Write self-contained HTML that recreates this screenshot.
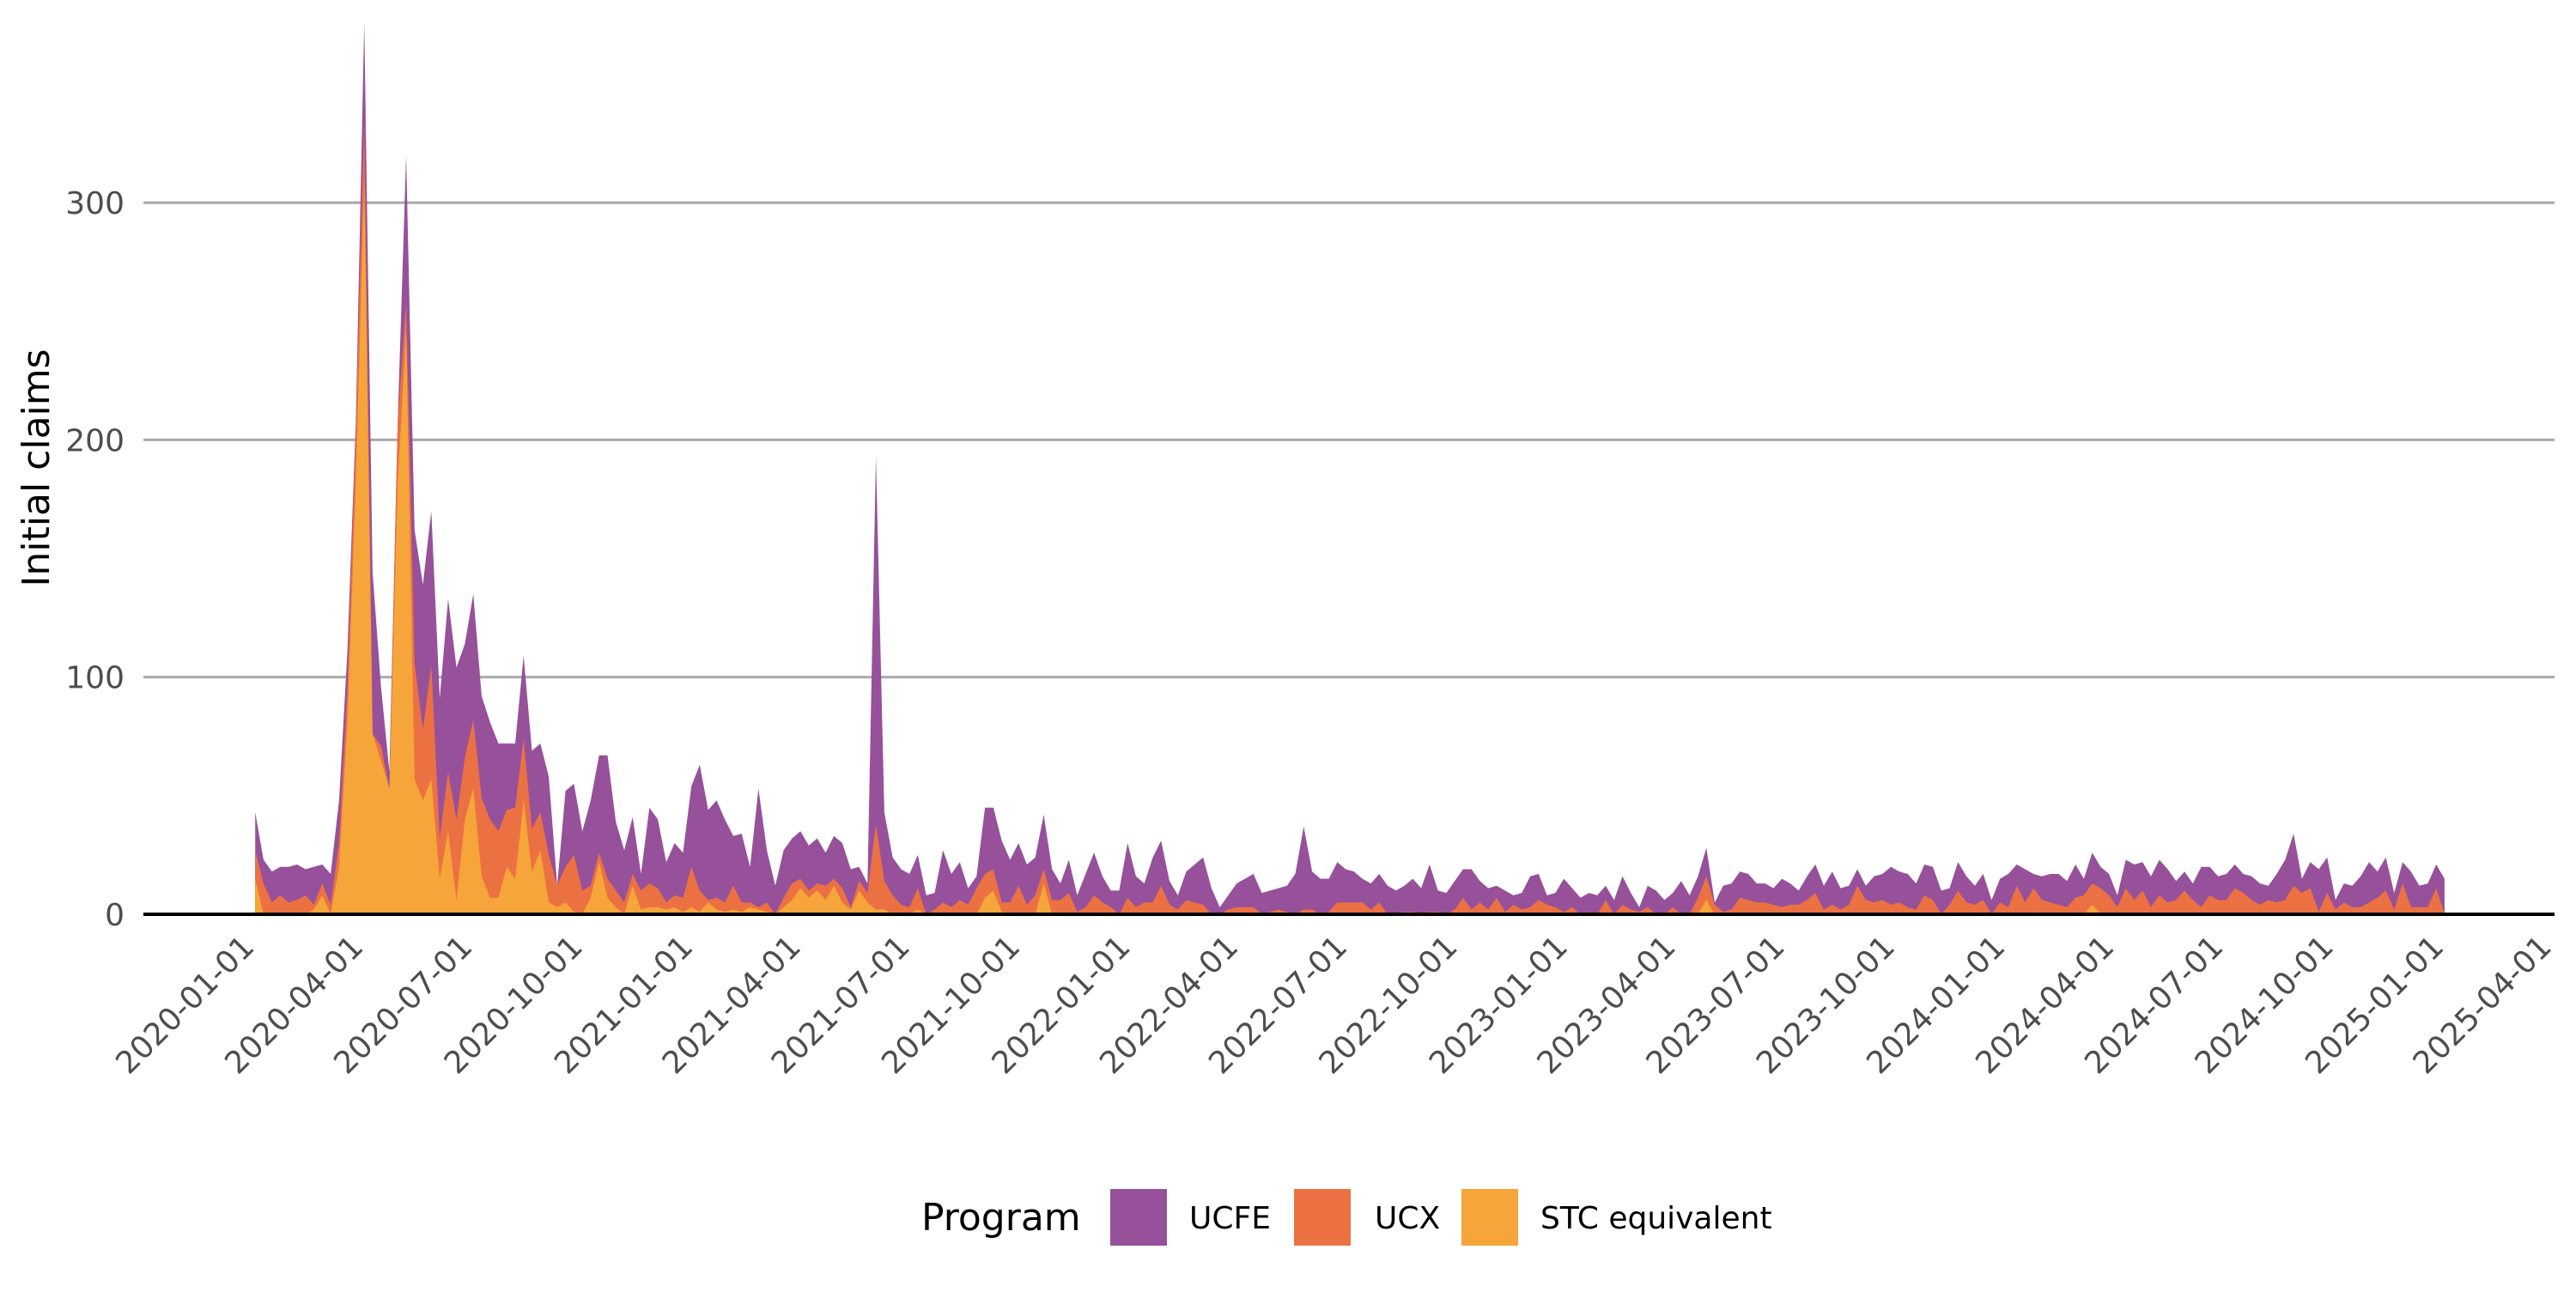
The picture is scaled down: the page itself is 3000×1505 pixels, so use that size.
<!DOCTYPE html>
<html><head><meta charset="utf-8"><style>
html,body{margin:0;padding:0;background:#fff}
svg text{font-family:"DejaVu Sans","Liberation Sans",sans-serif}
</style></head><body>
<svg id="chart" width="3000" height="1500" viewBox="0 0 3000 1500" xmlns="http://www.w3.org/2000/svg">
<rect width="3000" height="1500" fill="#fff"/>
<g id="grid"></g><g id="areas"></g><g id="axes"></g>
<text x="0" y="0" transform="translate(57,545) rotate(-90)" text-anchor="middle" font-size="44" fill="#000">Initial claims</text>
<g>
<text x="1073" y="1433" font-size="44" fill="#000">Program</text>
<rect x="1293" y="1385" width="66" height="66" fill="#96519a"/>
<text x="1385" y="1431" font-size="36" fill="#000">UCFE</text>
<rect x="1507" y="1385" width="66" height="66" fill="#ec7142"/>
<text x="1601" y="1431" font-size="36" fill="#000">UCX</text>
<rect x="1702" y="1385" width="66" height="66" fill="#f5a53a"/>
<text x="1794" y="1431" font-size="36" fill="#000">STC equivalent</text>
</g>
</svg>
<script>
const firstWeek = "2020-01-09";
const stc = [15,0,0,0,0,0,0,2,8,0, 20,81,182,309,76,65,53,182,246,57, 48,57,15,35,6,40,53,16,7,7, 20,15,48,18,27,5,3,5,1,0, 7,22,7,3,0,12,2,3,3,2, 3,1,3,1,5,2,1,2,1,3, 2,1,0,3,6,11,7,10,6,12, 5,2,10,5,2,2,0,0,0,2,
 0,0,0,0,0,0,0,7,10,1, 0,0,0,0,13,0,0,0,0,0,
 0,0,0,0,0,0,0,0,0,0, 0,0,0,0,0,0,0,0,0,0,
 0,0,0,0,0,0,0,0,0,0, 0,0,0,0,0,0,0,0,0,0,
 0,0,0,0,0,0,0,0,0,0, 0,0,0,0,0,0,0,0,0,0,
 0,0,0,0,0,0,0,0,0,0, 0,0,0,6,0,0,0,0,0,0,
 0,0,0,0,0,0,0,0,0,0, 0,0,0,0,0,0,0,0,0,0,
 0,0,0,0,0,0,0,0,0,0, 0,0,1,0,0,0,0,0,0,4,
 0,0,0,0,0,0,0,0,0,0, 0,0,0,0,0,0,0,0,0,0,
 0,0,0,0,0,0,0,0,0,0, 0,0,0,0,0,0,0,0,0,0,
 0,0];
const ucx = [12,13,5,8,5,6,8,2,5,4, 10,14,21,26,0,6,0,26,12,49, 30,48,17,25,34,26,29,33,33,28, 24,30,26,18,16,20,9,15,24,10, 5,4,8,7,5,5,8,10,8,3, 5,6,17,9,1,5,4,10,4,2, 1,4,0,4,7,4,3,3,6,3, 6,1,4,4,36,12,8,4,3,9,
 0,2,5,3,6,4,11,10,9,4, 5,12,4,8,6,6,6,9,1,3, 8,5,3,0,7,3,5,5,12,4, 2,6,
 5,4,0,0,2,3,3,3,0,1, 2,1,0,2,2,0,1,5,5,5, 5,2,5,0,0,1,1,0,1,1, 0,2,7,2,5,2,7,1,4,2, 3,
 6,4,3,1,3,0,1,0,6,0, 4,2,1,3,0,0,3,0,0,7, 10,4,1,2,7,6,5,5,4,3, 4,4,6,9,2,4,2,4,12,6, 5,
 6,4,5,3,2,8,6,0,4,10, 5,4,6,0,5,3,12,5,10,6, 5,4,3,7,8,9,11,8,3,11, 6,10,3,8,5,6,10,6,3,8, 6,
 6,11,9,6,4,6,5,6,12,9, 11,1,9,2,5,3,3,5,7,10, 2,13,3,3,3,11,0];
const ucfe = [16,10,13,12,15,15,11,16,8,13, 18,16,5,41,68,25,7,0,62,56, 61,65,59,73,64,48,53,43,41,37, 28,27,35,33,29,33,0,32,30,25, 36,41,52,29,22,24,7,32,29,17, 22,19,34,53,38,41,35,21,29,15, 50,22,12,20,19,20,19,19,14,18, 19,16,6,4,155,29,16,15,14,14,
 8,7,22,14,16,7,5,28,26,26, 18,18,17,16,23,13,7,14,7,14, 18,11,7,10,23,13,8,19,19,10, 6,12,
 16,20,11,3,6,10,12,14,9,9, 9,11,17,35,16,15,14,17,14,13, 10,11,12,12,10,11,14,11,20,9, 9,12,12,17,9,9,5,9,4,7, 13,
 11,4,6,14,8,7,8,8,6,6, 12,7,2,9,10,6,6,14,8,9, 12,1,11,11,11,11,8,8,7,12, 9,6,10,12,10,14,9,8,7,6, 11,
 11,16,13,14,11,13,14,10,7,12, 11,8,11,6,10,14,9,14,6,10, 12,13,11,14,7,13,9,9,5,12, 15,12,13,15,14,8,8,7,17,12, 10,
 11,10,8,10,9,6,12,17,22,6, 11,18,15,4,8,9,13,17,11,14, 7,9,15,9,10,10,15];
const xTickLabels = ["2020-01-01","2020-04-01","2020-07-01","2020-10-01","2021-01-01","2021-04-01","2021-07-01","2021-10-01","2022-01-01","2022-04-01","2022-07-01","2022-10-01","2023-01-01","2023-04-01","2023-07-01","2023-10-01","2024-01-01","2024-04-01","2024-07-01","2024-10-01","2025-01-01","2025-04-01"];
const yTicks = [0,100,200,300];

const NS="http://www.w3.org/2000/svg";
const T0=Date.UTC(2020,0,1);
function dayOf(s){const p=s.split("-");return (Date.UTC(+p[0],+p[1]-1,+p[2])-T0)/86400000;}
function xs(d){return 286+d*1.3956;}
function ys(v){return 1065-v*2.763;}
const PL=167, PR=2975;
function mk(tag,attrs,parent){const e=document.createElementNS(NS,tag);for(const k in attrs)e.setAttribute(k,attrs[k]);parent.appendChild(e);return e;}
const grid=document.getElementById("grid"),areas=document.getElementById("areas"),axes=document.getElementById("axes");
yTicks.forEach(v=>{
  if(v>0){const l=mk("line",{x1:PL,x2:PR,y1:ys(v),y2:ys(v),stroke:"#a8a8a8","stroke-width":3},grid);
  
  }
  const t=mk("text",{x:145,y:ys(v)+13,"text-anchor":"end","font-size":36,fill:"#4d4d4d"},axes);
  t.textContent=v;
  
  
});
const d0=dayOf(firstWeek);
const n=ucfe.length;
const xsArr=[],s1=[],s2=[],s3=[];
for(let i=0;i<n;i++){
  const a=stc[i]||0,b=ucx[i]||0,c=ucfe[i]||0;
  xsArr.push(xs(d0+7*i));s1.push(a);s2.push(a+b);s3.push(a+b+c);
}
function areaPath(top){let d="M"+xsArr[0]+","+ys(0);for(let i=0;i<n;i++)d+=" L"+xsArr[i].toFixed(1)+","+ys(top[i]).toFixed(1);d+=" L"+xsArr[n-1]+","+ys(0)+" Z";return d;}
const pU=mk("path",{d:areaPath(s3),fill:"#96519a"},areas);


const pX=mk("path",{d:areaPath(s2),fill:"#ec7142"},areas);


const pS=mk("path",{d:areaPath(s1),fill:"#f5a53a"},areas);


const ax=mk("line",{x1:PL,x2:PR,y1:1065,y2:1065,stroke:"#000","stroke-width":4},axes);


xTickLabels.forEach(s=>{
  const x=xs(dayOf(s));
  const t=mk("text",{x:0,y:0,"text-anchor":"end","font-size":36,fill:"#4d4d4d",transform:"translate("+(x+12)+",1105) rotate(-45)"},axes);
  t.textContent=s;
  
  
});
</script>
</body></html>
